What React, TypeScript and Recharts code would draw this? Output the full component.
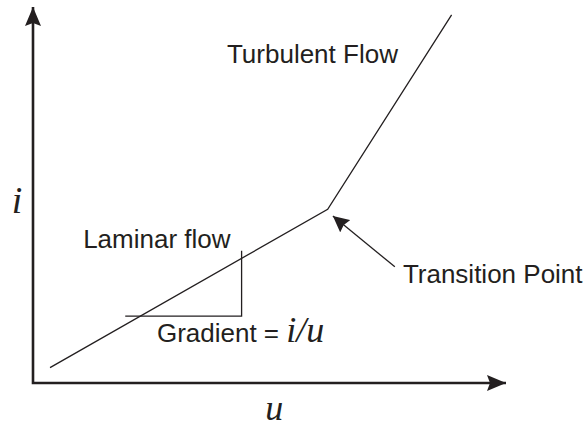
import React from 'react'
import { LineChart, Line, XAxis, YAxis, ReferenceLine, ReferenceDot } from 'recharts'

// u / i in percent of the plotting box (origin at the axes corner)
const flowCurve = [
  { u: 3.6, i: 4.1 },
  { u: 62.3, i: 46.2 },
  { u: 88.5, i: 97.9 },
]

const gradientTriangle = [
  { u: 19.5, i: 17.8 },
  { u: 44.1, i: 17.8 },
  { u: 44.1, i: 35.2 },
]

const axesFrame = [
  { u: 0, i: 100 },
  { u: 0, i: 0 },
  { u: 100, i: 0 },
]

const transitionArrow = [
  { u: 76.5, i: 30.9 },
  { u: 63.4, i: 44.4 },
]

const sansLabels = [
  { u: 41.0, i: 85.1, text: 'Turbulent Flow' },
  { u: 10.6, i: 35.9, text: 'Laminar flow' },
  { u: 78.2, i: 26.6, text: 'Transition Point' },
]

const gradientLabel = { u: 26.2, i: 10.9, text: 'Gradient = ', symbol: 'i/u' }

const axisLabels = [
  { u: -3.4, i: 45.2, text: 'i', size: 38 },
  { u: 51.0, i: -9.8, text: 'u', size: 36 },
]

const INK = '#231f20'
const SANS = '"Liberation Sans", Arial, Helvetica, sans-serif'
const SERIF = '"Liberation Serif", "Times New Roman", serif'

export default function App() {
  return (
    <div style={{ position: 'absolute', left: 0, top: 0, background: '#fff' }}>
      <LineChart width={585} height={428} margin={{ top: 7, right: 79, left: 33, bottom: 45 }}>
        <defs>
          <marker id="axisHead" viewBox="0 0 19 16" markerWidth={19} markerHeight={16}
            refX={19} refY={8} orient="auto-start-reverse" markerUnits="userSpaceOnUse">
            <path d="M0,0 L19,8 L0,16 L3,8 Z" fill={INK} />
          </marker>
          <marker id="pointerHead" viewBox="0 0 16 16" markerWidth={16} markerHeight={16}
            refX={16} refY={8} orient="auto" markerUnits="userSpaceOnUse">
            <path d="M0,0 L16,8 L0,16 L2,8 Z" fill={INK} />
          </marker>
        </defs>
        <XAxis dataKey="u" type="number" domain={[0, 100]} hide />
        <YAxis dataKey="i" type="number" domain={[0, 100]} hide />

        <Line data={axesFrame} dataKey="i" type="linear" stroke={INK} strokeWidth={2.6}
          strokeLinejoin="miter" dot={false} activeDot={false} isAnimationActive={false}
          markerStart="url(#axisHead)" markerEnd="url(#axisHead)" />
        <Line data={flowCurve} dataKey="i" type="linear" stroke={INK} strokeWidth={1.3}
          dot={false} activeDot={false} isAnimationActive={false} />
        <Line data={gradientTriangle} dataKey="i" type="linear" stroke={INK} strokeWidth={1.3}
          dot={false} activeDot={false} isAnimationActive={false} />

        <ReferenceLine
          segment={[{ x: transitionArrow[0].u, y: transitionArrow[0].i }, { x: transitionArrow[1].u, y: transitionArrow[1].i }]}
          stroke={INK} strokeWidth={1.3} markerEnd="url(#pointerHead)" ifOverflow="visible"
        />

        {sansLabels.map((l) => (
          <ReferenceDot key={l.text} x={l.u} y={l.i} r={0} ifOverflow="visible"
            shape={(p: any) => (
              <text x={p.cx} y={p.cy} fill={INK} fontFamily={SANS} fontSize={26}>{l.text}</text>
            )} />
        ))}
        <ReferenceDot x={gradientLabel.u} y={gradientLabel.i} r={0} ifOverflow="visible"
          shape={(p: any) => (
            <text x={p.cx} y={p.cy} fill={INK} fontFamily={SANS} fontSize={26}>
              {gradientLabel.text}
              <tspan fontFamily={SERIF} fontStyle="italic" fontSize={36}>{gradientLabel.symbol}</tspan>
            </text>
          )} />
        {axisLabels.map((l) => (
          <ReferenceDot key={l.text} x={l.u} y={l.i} r={0} ifOverflow="visible"
            shape={(p: any) => (
              <text x={p.cx} y={p.cy} fill={INK} fontFamily={SERIF} fontStyle="italic"
                fontSize={l.size} textAnchor="middle">{l.text}</text>
            )} />
        ))}
      </LineChart>
    </div>
  )
}
